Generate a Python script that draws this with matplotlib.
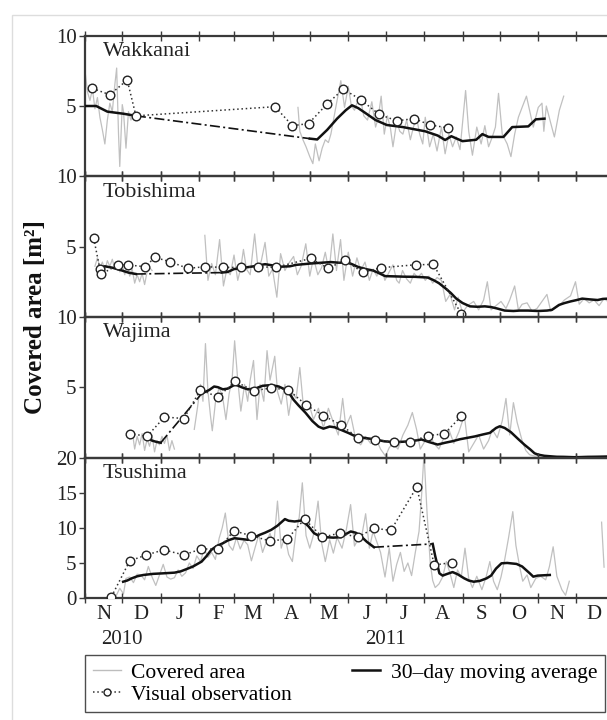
import numpy as np
import matplotlib
matplotlib.use("Agg")
import matplotlib.pyplot as plt
import matplotlib.dates as mdates
from matplotlib.lines import Line2D
from matplotlib.patches import Rectangle
from matplotlib.ticker import FuncFormatter, FixedLocator

plt.rcParams['font.family'] = ['Liberation Serif', 'DejaVu Serif']

# ---------------- data (day offsets from 2010-11-01, value in m^2) ----------------
stations = ["Wakkanai", "Tobishima", "Wajima", "Tsushima"]
ylims = [(0, 10), (0, 10), (0, 10), (0, 20)]
yticks = [[5, 10], [5, 10], [5, 10], [0, 5, 10, 15, 20]]

wk_gray = [(0, 7.5), (2, 6.0), (4, 5.4), (6, 6.2), (8, 4.8), (10, 5.6), (12, 4.2), (14, 3.3), (16, 2.3),
           (18, 4.0), (20, 5.2), (22, 4.6), (24, 6.5), (25.5, 7.7), (27, 3.0), (28, 0.7), (30, 5.1),
           (31, 4.6), (33, 2.0), (35, 4.6), (37, 4.0), (39, 4.4), (41, 4.2), (43, 4.5), (100, np.nan),
           (171.5, 4.9), (173, 3.2), (175.5, 2.6), (178, 2.1), (181, 1.4), (183.5, 0.9), (185.5, 2.3),
           (188.5, 1.1), (191, 2.0), (193.5, 2.6), (196, 2.4), (198, 3.0), (200.5, 4.2), (203, 5.4),
           (206, 6.8), (209, 4.9), (212, 6.4), (214.5, 5.0), (217, 4.7), (219, 5.2), (221.5, 5.7),
           (224.5, 4.3), (227.5, 4.0), (231, 5.3), (234, 3.5), (236, 4.1), (238.5, 5.7), (241, 3.0),
           (243.5, 4.3), (246, 3.4), (248, 2.1), (251, 3.9), (253.5, 3.2), (256, 3.0), (259, 4.0),
           (262, 2.6), (264.5, 3.5), (267, 4.2), (269.5, 3.0), (272, 2.3), (274, 4.2), (277.5, 2.1),
           (280.5, 3.0), (283.5, 1.8), (287, 3.5), (290, 1.6), (293, 3.0), (296, 2.1), (299, 2.8),
           (302, 1.9), (306.5, 6.1), (309, 3.2), (312, 1.5), (315.5, 3.5), (319, 2.3), (322, 3.6),
           (325, 2.1), (328, 2.8), (330.5, 3.5), (333, 5.9), (336, 3.0), (340, 2.3), (343, 1.4),
           (346, 3.0), (349, 4.2), (352, 4.9), (355.5, 5.7), (358, 4.7), (361, 3.5), (365, 4.9),
           (368, 5.2), (369.5, 3.2), (371.5, 5.0), (375, 3.8), (378, 2.8), (382, 4.7), (385.5, 5.7)]
wk_ma = [(0, 5.0), (9, 5.0), (18, 4.6), (31, 4.45), (41, 4.3), (100, np.nan), (181, 2.68), (187, 2.62),
         (195, 3.3), (203, 4.1), (210, 4.7), (215, 5.05), (220, 4.85), (225, 4.55), (234, 4.0),
         (243, 3.65), (256, 3.5), (265, 3.35), (274, 3.2), (284, 2.9), (290, 2.58), (295, 2.85),
         (304, 2.5), (315, 2.6), (320, 3.0), (325, 2.8), (337, 2.8), (344, 3.5), (357, 3.55),
         (363, 4.05), (370, 4.1)]
wk_obs = [(6, 6.25), (20, 5.8), (34, 6.85), (41, 4.3), (153, 4.95), (167, 3.6), (180, 3.75),
          (195, 5.15), (208, 6.2), (222, 5.45), (237, 4.4), (251, 3.95), (265, 4.1), (278, 3.65),
          (292, 3.45)]

tb_gray = [(8, 3.6), (10, 4.2), (12, 3.5), (14, 3.9), (16, 3.3), (18, 4.0), (20, 3.6), (22, 4.1),
           (24, 3.4), (26, 3.8), (28, 3.2), (30, 3.7), (32, 3.0), (34, 3.6), (36, 2.9), (38, 3.4),
           (40, 2.4), (42, 3.0), (44, 2.5), (46, 3.1), (48, 2.3), (50, 3.2), (52, 3.5), (54, 3.3),
           (70, np.nan),
           (96.5, 5.8), (99, 2.6), (102, 3.8), (105, 3.0), (108.4, 5.5), (111.5, 2.2), (114, 3.3),
           (117, 3.0), (120, 4.4), (123, 2.6), (125.5, 3.5), (127.6, 4.8), (130, 3.4), (133, 3.0),
           (136.6, 5.9), (139.5, 3.3), (142, 4.0), (145, 5.3), (148, 2.9), (151, 3.4), (154.5, 1.4),
           (157.5, 4.5), (161, 3.3), (164, 3.8), (168, 4.3), (171, 3.0), (174, 3.6), (177.8, 5.2),
           (181, 2.9), (184, 4.2), (187.5, 3.0), (190.5, 3.5), (193.5, 4.6), (196.5, 3.2), (199.6, 5.9),
           (202.5, 3.3), (205.8, 5.5), (208.5, 2.6), (212, 4.6), (215.5, 2.9), (219, 4.2), (222, 3.3),
           (225.5, 3.9), (229, 2.6), (232, 3.4), (235, 2.9), (238.5, 3.6), (241.5, 2.6), (245, 3.2),
           (248, 3.7), (251, 2.6), (253, 2.4), (255.7, 3.3), (259, 2.7), (262, 2.4), (265, 3.1),
           (268, 2.8), (271, 3.1), (274, 2.6), (277, 2.9), (280, 2.4), (283.5, 2.8), (287, 2.6),
           (290.5, 1.1), (294, 1.6), (297.6, 0.5), (300.5, 1.4), (304, 0.3), (308, 0.8), (313, 1.1),
           (317, 0.5), (321, 1.2), (324, 2.5), (327, 0.5), (331, 0.8), (335, 1.1), (339, 0.6),
           (342, 1.2), (346, 2.2), (349, 0.5), (352, 0.9), (356, 1.0), (360, 0.4), (364, 0.6),
           (368, 1.1), (372, 1.6), (375, 0.4), (378, 0.6), (382, 0.8), (386, 1.2), (391, 1.5),
           (395, 2.5), (398, 0.9), (402, 1.3), (406, 1.0), (410, 1.2), (414, 0.8), (418, 1.3),
           (421, 1.1), (424, 1.4), (426, 1.2)]
tb_ma = [(10.5, 3.45), (16, 3.6), (22, 3.5), (28, 3.35), (35, 3.15), (41, 3.05), (70, np.nan),
         (110, 3.15), (115, 3.2), (120, 3.4), (128, 3.5), (136, 3.6), (145, 3.75), (152, 3.65),
         (157.5, 3.57), (165, 3.6), (170, 3.7), (182, 3.8), (190, 3.85), (198, 3.9), (205, 3.85),
         (210.5, 3.9), (215, 3.75), (220, 3.55), (226, 3.4), (232, 3.3), (237, 3.1), (241.7, 2.9),
         (250, 2.88), (257, 2.86), (266, 2.85), (276, 2.8), (281, 2.6), (285, 2.4), (290, 2.05),
         (294.6, 1.7), (299, 1.3), (304, 0.99), (310, 0.75), (316, 0.72), (322, 0.75), (327, 0.7),
         (331.8, 0.6), (338, 0.45), (345, 0.42), (350, 0.45), (356.8, 0.45), (365, 0.42), (372, 0.45),
         (376, 0.5), (381.7, 0.85), (386, 0.98), (391, 1.1), (396, 1.2), (400.4, 1.3), (406, 1.25),
         (412.8, 1.2), (417, 1.28), (421.5, 1.3), (426, 1.32)]
tb_obs = [(7, 5.6), (12, 3.4), (13.2, 3.05), (26.6, 3.7), (34.4, 3.7), (48.4, 3.57), (56.3, 4.23),
          (68.7, 3.92), (82.7, 3.45), (96.8, 3.57), (110.8, 3.52), (125.4, 3.52), (139.4, 3.57),
          (153.5, 3.52), (181.8, 4.16), (195.9, 3.45), (209, 4.04), (223.6, 3.17), (238.5, 3.5),
          (266.6, 3.71), (280.6, 3.73), (303, 0.21)]

wj_gray = [(36, 1.3), (38, 1.9), (40, 0.6), (42, 1.5), (44, 0.9), (46, 1.7), (48, 0.5), (50, 1.3),
           (52, 0.8), (54, 1.6), (56, 0.4), (58, 1.2), (60, 0.9), (62, 1.5), (64, 1.0), (66, 1.6),
           (68, 0.5), (70, 1.2), (72, 0.6), (80, np.nan),
           (88, 2.0), (90.5, 3.5), (93, 5.2), (95, 4.0), (97, 8.1), (99, 4.7), (101, 3.0), (102.5, 1.9),
           (105, 3.9), (108, 5.0), (111, 4.2), (113.5, 2.7), (116, 4.5), (118.5, 5.6), (120.5, 8.3),
           (123, 5.5), (125.5, 3.3), (128.5, 5.2), (131, 4.0), (133, 5.5), (135.7, 6.9), (138.5, 2.7),
           (141, 5.2), (144, 4.0), (146.6, 7.6), (149, 5.5), (152.8, 7.2), (155, 4.7), (158, 3.8),
           (161, 5.2), (164, 3.0), (167, 4.6), (170, 4.2), (173, 6.4), (176, 3.5), (180, 3.9),
           (184, 2.7), (188, 3.5), (192, 2.1), (196, 3.5), (200, 2.5), (204, 1.6), (207.5, 4.2),
           (210, 2.2), (214, 3.0), (218, 1.3), (222, 0.9), (226, 1.5), (230, 1.0), (234, 1.4),
           (238, 0.6), (242, 0.1), (245, 0.7), (248, 1.0), (252, 0.6), (256, 1.6), (260, 2.3),
           (263.6, 3.2), (267, 2.0), (270, 0.6), (274, 1.2), (278, 1.6), (281, 1.0), (285, 0.6),
           (289, 1.4), (293, 2.0), (297, 1.0), (301, 1.8), (305.5, 3.0), (309, 0.4), (313, 1.0),
           (317, 1.6), (321, 0.6), (325, 1.2), (328, 2.0), (332, 1.4), (336, 2.6), (339, 4.2),
           (342, 1.6), (345, 3.9), (348, 2.5), (352, 1.2), (355, 0.5), (358, 0.2), (362, 0.1),
           (368, 0.15), (375, 0.05), (385, 0.1), (395, 0.05), (405, 0.1), (415, 0.05), (426, 0.1)]
wj_ma = [(50, 1.45), (54, 1.2), (58, 1.1), (61, 1.05), (80, np.nan), (94, 4.55), (100, 4.8),
         (104, 5.05), (107, 5.0), (111, 4.85), (115, 4.9), (121, 5.2), (126, 5.0), (131, 4.85),
         (137, 4.9), (143, 5.1), (150, 5.15), (156, 5.05), (162, 4.8), (165, 4.5), (168, 4.1),
         (172, 3.7), (177.7, 3.17), (183, 2.6), (188, 2.2), (192, 2.05), (197, 2.2), (201, 2.15),
         (205.8, 1.98), (212, 1.75), (218, 1.5), (226, 1.38), (234, 1.28), (241, 1.15), (249, 1.1),
         (256, 1.12), (262, 1.16), (267, 1.22), (271, 1.28), (277, 1.1), (284, 0.92), (290, 1.05),
         (296, 1.16), (302, 1.3), (308, 1.4), (314, 1.5), (320, 1.63), (326, 1.75), (331, 2.1),
         (334, 2.22), (338, 2.1), (343, 1.8), (349, 1.3), (354, 0.9), (358.6, 0.57), (362, 0.3),
         (365, 0.2), (370, 0.12), (380, 0.05), (395, 0.02), (410, 0.05), (426, 0.08)]
wj_obs = [(36, 1.7), (50, 1.51), (64, 2.88), (79.6, 2.77), (93, 4.82), (107, 4.3), (121, 5.41),
          (135.7, 4.75), (149.7, 4.94), (163.7, 4.82), (177.7, 3.76), (191.8, 2.98), (205.8, 2.34),
          (219.8, 1.4), (233.9, 1.28), (248.5, 1.09), (262, 1.09), (276, 1.56), (289.3, 1.68),
          (303, 2.93)]

ts_gray = [(22, 0.2), (25, 0.3), (28, 1.4), (31, 0.6), (33, 2.8), (36, 3.0), (39, 2.2), (42, 3.4),
           (45, 3.3), (48, 2.6), (51, 4.5), (54, 3.0), (57, 1.8), (60, 3.3), (63, 4.8), (66, 3.0),
           (69, 2.7), (72, 2.9), (75, 4.0), (78, 3.1), (81, 3.6), (84, 5.0), (87, 4.2), (90, 6.0),
           (93, 5.2), (96, 7.0), (99, 5.8), (102, 6.5), (105, 5.5), (108, 8.5), (110.5, 10.0),
           (113, 12.1), (116, 7.5), (119, 6.8), (122, 8.6), (125, 7.0), (128, 8.2), (131, 7.6),
           (134, 5.3), (137, 7.2), (140, 9.0), (143, 6.5), (146, 8.0), (149, 9.2), (152, 7.5),
           (155, 13.8), (158, 7.1), (161, 8.8), (164, 6.2), (167, 5.2), (170, 9.5), (172.5, 11.5),
           (175, 16.4), (178, 8.9), (181, 7.1), (184, 9.0), (187.7, 13.8), (190.5, 7.9), (193.5, 5.2),
           (197, 8.3), (200, 6.4), (203, 8.6), (207, 7.1), (210.5, 9.8), (213.9, 13.3), (217, 7.4),
           (220, 8.4), (223, 9.0), (226, 12.0), (229, 7.1), (232, 9.5), (235, 8.0), (238, 6.5),
           (241.6, 3.0), (245, 7.1), (248, 2.4), (251, 4.8), (254, 6.5), (257, 3.8), (260, 5.0),
           (263, 3.2), (266, 6.5), (269, 9.5), (271, 14.5), (273, 20.5), (275.5, 12.0), (278, 5.0),
           (280, 2.5), (282, 1.5), (285, 2.0), (288, 3.0), (291, 5.2), (294, 3.5), (297, 1.5),
           (300, 4.0), (303, 3.0), (306, 7.1), (309, 2.8), (312, 1.5), (315.5, 3.1), (319.6, 1.2),
           (323, 3.0), (326, 5.2), (329, 2.4), (332, 1.2), (335, 3.0), (338, 5.5), (341, 8.5),
           (344.5, 12.3), (347, 7.5), (350, 4.5), (352.5, 2.4), (356, 3.3), (359, 1.5), (363, 2.8),
           (367, 3.1), (371, 2.6), (374, 4.5), (377, 7.3), (380, 3.1), (384, 1.2), (387, 0.4),
           (390, 2.4), (400, np.nan), (416, 10.8), (418, 4.4)]
ts_ma = [(30.7, 2.33), (34, 2.5), (37.6, 2.81), (42, 3.1), (47, 3.29), (55, 3.45), (62.6, 3.52),
         (72, 3.62), (77, 3.8), (81.4, 4.1), (87, 4.5), (93.9, 5.19), (98, 6.0), (101.7, 6.86),
         (106, 7.4), (111, 7.8), (115, 8.2), (120.4, 8.52), (126, 8.4), (131.3, 8.29), (136, 8.6),
         (140.7, 9.0), (145, 9.3), (150, 9.71), (155, 10.3), (161, 11.24), (164, 11.0), (168.8, 10.9),
         (175, 11.05), (180, 10.2), (184.4, 9.24), (189, 8.8), (193.7, 8.67), (200, 8.6), (206.2, 8.67),
         (210, 9.1), (214, 9.48), (218, 9.3), (221.8, 8.86), (227, 8.0), (232.7, 7.24), (250, np.nan),
         (280, 7.71), (282, 6.0), (285.4, 3.52), (288, 3.2), (291, 3.4), (296, 3.7), (300, 3.4),
         (305.4, 2.81), (309, 2.5), (313, 2.33), (318, 2.45), (323.4, 2.81), (327, 3.2), (331, 4.2),
         (335.4, 4.95), (340, 5.0), (347.5, 4.86), (352, 4.5), (358.2, 3.52), (361, 3.05),
         (364.5, 3.2), (370, 3.25), (374.3, 3.29)]
ts_obs = [(21.3, 0.19), (36, 5.29), (49.4, 6.14), (63.4, 6.86), (79.6, 6.14), (93.6, 7.0), (107, 6.95),
          (120, 9.57), (134, 8.86), (148.8, 8.14), (162.8, 8.38), (176.8, 11.24), (191.2, 8.67),
          (205.2, 9.24), (219.8, 8.67), (232.9, 9.95), (246.3, 9.62), (267.2, 15.81), (281.2, 4.71),
          (295.3, 5.05)]

gray_series = [wk_gray, tb_gray, wj_gray, ts_gray]
ma_series = [wk_ma, tb_ma, wj_ma, ts_ma]
obs_series = [wk_obs, tb_obs, wj_obs, ts_obs]

year_labels = [("2010", "2010-12-01"), ("2011", "2011-07-01")]
legend_labels = ["Covered area", "Visual observation", "30\u2013day moving average"]
ylabel = "Covered area [m\u00b2]"

# ---------------- helpers ----------------
base = np.datetime64("2010-11-01T00:00")


def split(pairs):
    arr = np.array(pairs, dtype=float)
    d = base + np.round(arr[:, 0] * 1440).astype("timedelta64[m]")
    return d, arr[:, 1]


# ---------------- figure ----------------
W, H = 607, 720
fig = plt.figure(figsize=(W / 100, H / 100), dpi=100)

# light frame around the figure
fig.patches.append(Rectangle((12 / W, -0.05), 1.2, 1 - 15 / H + 0.05, transform=fig.transFigure,
                             fill=False, edgecolor="#dddddd", linewidth=1.0))

left_px, right_px = 85, 614
top_px, panel_h = 35.7, 140.6
spine_col = "#3a3a3a"
tick_fs = 15

axes = []
for i in range(4):
    bottom = 1 - (top_px + panel_h * (i + 1)) / H
    ax = fig.add_axes([left_px / W, bottom, (right_px - left_px) / W, panel_h / H])
    axes.append(ax)

for i, ax in enumerate(axes):
    gd, gv = split(gray_series[i])
    ax.plot(gd, gv, color="#c0c0c0", lw=0.9, zorder=1)

    md, mv = split(ma_series[i])
    ax.plot(md, mv, color="#111111", lw=1.8, zorder=3, solid_joinstyle="round")
    # dash-dot line bridging each gap of the moving average
    nanidx = np.where(np.isnan(mv))[0]
    for k in nanidx:
        ax.plot([md[k - 1], md[k + 1]], [mv[k - 1], mv[k + 1]], color="#111111", lw=1.2,
                dashes=(6, 2, 1.2, 2), zorder=3)

    od, ov = split(obs_series[i])
    ax.plot(od, ov, color="#333333", lw=1.1, ls=(0, (1, 1.8)), marker="o", ms=6.2,
            mfc="white", mec="#222222", mew=1.0, zorder=4)

    ax.set_xlim(np.datetime64("2010-11-01"), np.datetime64("2012-01-01"))
    ax.set_ylim(*ylims[i])
    ax.yaxis.set_major_locator(FixedLocator(yticks[i]))
    ax.xaxis.set_major_locator(mdates.MonthLocator())
    ax.xaxis.set_minor_locator(mdates.MonthLocator(bymonthday=16))
    ax.xaxis.set_major_formatter(FuncFormatter(lambda x, p: ""))
    if i == 3:
        ax.xaxis.set_minor_formatter(
            FuncFormatter(lambda x, p: mdates.num2date(x).strftime("%b")[0]))
    else:
        ax.xaxis.set_minor_formatter(FuncFormatter(lambda x, p: ""))
    ax.tick_params(axis="x", which="major", direction="inout", length=7, width=1.0,
                   color=spine_col, top=True, bottom=True)
    ax.tick_params(axis="x", which="minor", length=0, labelsize=tick_fs, pad=5, colors="#222222")
    ax.tick_params(axis="y", which="major", direction="out", length=4, width=1.0,
                   color=spine_col, labelsize=tick_fs, pad=2, labelcolor="#222222")
    for s in ax.spines.values():
        s.set_color(spine_col)
        s.set_linewidth(1.6)
    ax.patch.set_alpha(0)
    ax.text(0.034, 1 - (56 - 35.7) / panel_h, stations[i], transform=ax.transAxes,
            fontsize=16, color="#222222", va="baseline", ha="left", zorder=6)

# year labels below the month initials
ax4 = axes[3]
for txt, dt in year_labels:
    ax4.text(np.datetime64(dt), -(639 - 598) / panel_h, txt, transform=ax4.get_xaxis_transform(),
             ha="center", va="center", fontsize=tick_fs, color="#222222")

fig.text(36 / W, 1 - 317 / H, ylabel, rotation=90, ha="center", va="center",
         fontsize=18, fontweight="bold", color="#111111")

handles = [Line2D([], [], color="#bdbdbd", lw=1.0),
           Line2D([], [], color="#333333", lw=1.1, ls=(0, (1, 1.8)), marker="o", ms=5,
                  mfc="white", mec="#222222", mew=1.0),
           Line2D([], [], color="#111111", lw=1.8)]
leg = fig.legend(handles, legend_labels, loc="upper left", bbox_to_anchor=(85 / W, 1 - 655 / H),
                 ncol=2, frameon=True, fancybox=False, edgecolor="#222222", fontsize=15.5,
                 handlelength=1.3, handletextpad=0.5, columnspacing=2.8, borderpad=0.35,
                 labelspacing=0.1, borderaxespad=0, numpoints=1)
leg.get_frame().set_linewidth(1.0)

fig.savefig("out.png", dpi=100)
